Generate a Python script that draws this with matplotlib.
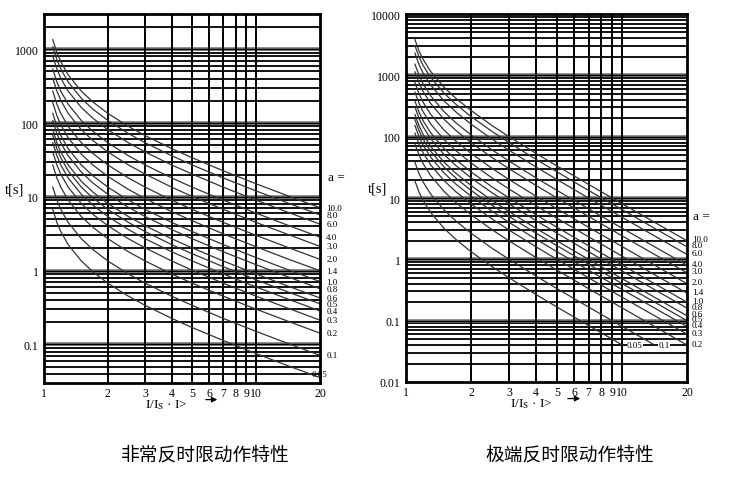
import numpy as np
import matplotlib.pyplot as plt

plt.rcParams['font.family'] = ['Liberation Serif', 'DejaVu Serif']
plt.rcParams['mathtext.fontset'] = 'stix'

# current multiple I/Is where the curves were read
I_pts = [1.1, 1.15, 1.2, 1.3, 1.5, 1.7, 2, 2.5, 3, 4, 5, 7, 10, 14, 20]
a_labels = ['10.0', '8.0', '6.0', '4.0', '3.0', '2.0', '1.4', '1.0',
            '0.8', '0.6', '0.5', '0.4', '0.3', '0.2', '0.1', '0.05']

# very inverse (left), t[s] for each a
vi_t = [
    [1350, 900, 675, 450, 270, 193, 135, 90, 67.5, 45, 33.8, 22.5, 15, 10.4, 7.11],
    [1080, 720, 540, 360, 216, 154, 108, 72, 54, 36, 27, 18, 12, 8.31, 5.68],
    [810, 540, 405, 270, 162, 116, 81, 54, 40.5, 27, 20.3, 13.5, 9.0, 6.23, 4.26],
    [540, 360, 270, 180, 108, 77.1, 54, 36, 27, 18, 13.5, 9.0, 6.0, 4.15, 2.84],
    [405, 270, 203, 135, 81, 57.9, 40.5, 27, 20.3, 13.5, 10.1, 6.75, 4.5, 3.12, 2.13],
    [270, 180, 135, 90, 54, 38.6, 27, 18, 13.5, 9.0, 6.75, 4.5, 3.0, 2.08, 1.42],
    [189, 126, 94.5, 63, 37.8, 27, 18.9, 12.6, 9.45, 6.3, 4.73, 3.15, 2.1, 1.45, 0.995],
    [135, 90, 67.5, 45, 27, 19.3, 13.5, 9.0, 6.75, 4.5, 3.38, 2.25, 1.5, 1.04, 0.711],
    [108, 72, 54, 36, 21.6, 15.4, 10.8, 7.2, 5.4, 3.6, 2.7, 1.8, 1.2, 0.831, 0.568],
    [81, 54, 40.5, 27, 16.2, 11.6, 8.1, 5.4, 4.05, 2.7, 2.03, 1.35, 0.9, 0.623, 0.426],
    [67.5, 45, 33.8, 22.5, 13.5, 9.64, 6.75, 4.5, 3.38, 2.25, 1.69, 1.13, 0.75, 0.519, 0.355],
    [54, 36, 27, 18, 10.8, 7.71, 5.4, 3.6, 2.7, 1.8, 1.35, 0.9, 0.6, 0.415, 0.284],
    [40.5, 27, 20.3, 13.5, 8.1, 5.79, 4.05, 2.7, 2.03, 1.35, 1.01, 0.675, 0.45, 0.312, 0.213],
    [27, 18, 13.5, 9.0, 5.4, 3.86, 2.7, 1.8, 1.35, 0.9, 0.675, 0.45, 0.3, 0.208, 0.142],
    [13.5, 9.0, 6.75, 4.5, 2.7, 1.93, 1.35, 0.9, 0.675, 0.45, 0.338, 0.225, 0.15, 0.104, 0.0711],
    [6.75, 4.5, 3.38, 2.25, 1.35, 0.964, 0.675, 0.45, 0.338, 0.225, 0.169, 0.113, 0.075, 0.0519, 0.0355],
]

# extremely inverse (right), nan where the curve has stopped
nan = np.nan
ei_t = [
    [3810, 2480, 1820, 1160, 640, 423, 267, 152, 100, 53.3, 33.3, 16.7, 8.08, 4.10, 2.01],
    [3050, 1980, 1450, 928, 512, 339, 213, 122, 80, 42.7, 26.7, 13.3, 6.46, 3.28, 1.60],
    [2290, 1490, 1090, 696, 384, 254, 160, 91.4, 60, 32, 20, 10, 4.85, 2.46, 1.20],
    [1520, 992, 727, 464, 256, 169, 107, 61, 40, 21.3, 13.3, 6.67, 3.23, 1.64, 0.802],
    [1140, 744, 545, 348, 192, 127, 80, 45.7, 30, 16, 10, 5.0, 2.42, 1.23, 0.602],
    [762, 496, 364, 232, 128, 84.7, 53.3, 30.5, 20, 10.7, 6.67, 3.33, 1.62, 0.821, 0.401],
    [533, 347, 255, 162, 89.6, 59.3, 37.3, 21.3, 14, 7.47, 4.67, 2.33, 1.13, 0.574, 0.281],
    [381, 248, 182, 116, 64, 42.3, 26.7, 15.2, 10, 5.33, 3.33, 1.67, 0.808, 0.410, 0.200],
    [305, 198, 145, 92.8, 51.2, 33.9, 21.3, 12.2, 8, 4.27, 2.67, 1.33, 0.646, 0.328, 0.160],
    [229, 149, 109, 69.6, 38.4, 25.4, 16, 9.14, 6, 3.2, 2.0, 1.0, 0.485, 0.246, 0.120],
    [190, 124, 90.9, 58, 32, 21.2, 13.3, 7.62, 5, 2.67, 1.67, 0.833, 0.404, 0.205, 0.100],
    [152, 99.2, 72.7, 46.4, 25.6, 16.9, 10.7, 6.1, 4, 2.13, 1.33, 0.667, 0.323, 0.164, 0.0802],
    [114, 74.4, 54.5, 34.8, 19.2, 12.7, 8, 4.57, 3, 1.6, 1.0, 0.5, 0.242, 0.123, 0.0602],
    [76.2, 49.6, 36.4, 23.2, 12.8, 8.47, 5.33, 3.05, 2, 1.07, 0.667, 0.333, 0.162, 0.0821, 0.0401],
    [38.1, 24.8, 18.2, 11.6, 6.4, 4.23, 2.67, 1.52, 1, 0.533, 0.333, 0.167, 0.0808, 0.0410, nan],
    [19.0, 12.4, 9.09, 5.8, 3.2, 2.12, 1.33, 0.762, 0.5, 0.267, 0.167, 0.0833, 0.0404, nan, nan],
]

x_ticks = [1, 2, 3, 4, 5, 6, 7, 8, 9, 10, 20]
vi_yticks = [0.1, 1, 10, 100, 1000]
vi_ylabels = ['0.1', '1', '10', '100', '1000']
ei_yticks = [0.01, 0.1, 1, 10, 100, 1000, 10000]
ei_ylabels = ['0.01', '0.1', '1', '10', '100', '1000', '10000']
titles = ['非常反时限动作特性', '极端反时限动作特性']


def setup(ax, ymin, ymax, yticks, ylabels):
    ax.set_xscale('log')
    ax.set_yscale('log')
    d0, d1 = int(np.floor(np.log10(ymin))), int(np.ceil(np.log10(ymax)))
    minors = [k * 10.0 ** d for d in range(d0, d1) for k in range(2, 10)]
    for y in minors:
        if ymin < y < ymax:
            ax.axhline(y, color='black', lw=1.3, zorder=1)
    for y in yticks:
        if ymin < y < ymax:
            ax.axhline(y, color='#777777', lw=2.6, zorder=1)
            ax.axhline(y, color='black', lw=1.0, zorder=1)
    for x in x_ticks[1:-1]:
        ax.axvline(x, color='black', lw=1.4, zorder=1)
    ax.set_xticks(x_ticks)
    ax.set_xticklabels([str(x) for x in x_ticks])
    ax.set_xticks([], minor=True)
    ax.set_yticks(yticks)
    ax.set_yticklabels(ylabels)
    ax.set_yticks([], minor=True)
    ax.set_xlim(1, 20)
    ax.set_ylim(ymin, ymax)
    ax.tick_params(length=0, labelsize=8.5, colors='black')
    ax.tick_params(axis='x', pad=3)
    ax.tick_params(axis='y', pad=4)
    for s in ax.spines.values():
        s.set_linewidth(2.0)
        s.set_zorder(5)


fig = plt.figure(figsize=(7.3, 4.81), dpi=100)
ax1 = fig.add_axes([44 / 730, 1 - 384 / 481, 276 / 730, 369 / 481])
ax2 = fig.add_axes([406 / 730, 1 - 383 / 481, 281 / 730, 368 / 481])

setup(ax1, 0.03, 3000, vi_yticks, vi_ylabels)
setup(ax2, 0.01, 10000, ei_yticks, ei_ylabels)

for row in vi_t:
    ax1.plot(I_pts, row, color='#333333', lw=0.9, zorder=3)
for row in ei_t:
    ax2.plot(I_pts, row, color='#333333', lw=0.9, zorder=3)

# curve labels (left)
for lab, row in zip(a_labels, vi_t):
    if lab == '0.05':
        ax1.annotate(lab, xy=(20, 0.04), xytext=(0, 0), textcoords='offset points',
                     ha='center', va='center', fontsize=6.5, annotation_clip=False, zorder=6)
    else:
        ax1.annotate(lab, xy=(20, row[-1]), xytext=(4.5, 0), textcoords='offset points',
                     ha='left', va='center', fontsize=6.5, annotation_clip=False)

# curve labels (right)
for lab, row in zip(a_labels, ei_t):
    if lab == '0.05':
        ax2.text(10.55, 0.04, lab, ha='left', va='center', fontsize=6.5, zorder=6,
                 bbox=dict(facecolor='white', edgecolor='none', pad=0.3))
    elif lab == '0.1':
        ax2.text(14.8, 0.04, lab, ha='left', va='center', fontsize=6.5, zorder=6,
                 bbox=dict(facecolor='white', edgecolor='none', pad=0.3))
    else:
        ax2.annotate(lab, xy=(20, row[-1]), xytext=(3.5, 1), textcoords='offset points',
                     ha='left', va='center', fontsize=6.5, annotation_clip=False)

for ax, ax_x, ay, tx, lx, arr in [(ax1, 1.03, 0.558, -0.105, 0.365, (0.576, 0.638)),
                                  (ax2, 1.022, 0.451, -0.10, 0.37, (0.566, 0.63))]:
    ax.text(ax_x, ay, 'a =', transform=ax.transAxes, fontsize=9.5, ha='left', va='center')
    ax.text(tx, 0.527, 't[s]', transform=ax.transAxes, fontsize=10.5, ha='center', va='center')
    ax.text(lx, -0.056, r'I/I$_\mathrm{S}$ · I>', transform=ax.transAxes,
            fontsize=9.5, ha='left', va='center')
    ax.annotate('', xy=(arr[1], -0.045), xytext=(arr[0], -0.045), xycoords='axes fraction',
                arrowprops=dict(arrowstyle='-|>', lw=0.9, color='black', mutation_scale=8),
                annotation_clip=False)

fig.text(205 / 730, 1 - 455 / 481, titles[0], ha='center', va='center', fontsize=13.5,
         family=['Noto Sans CJK SC', 'DejaVu Sans'])
fig.text(570 / 730, 1 - 455 / 481, titles[1], ha='center', va='center', fontsize=13.5,
         family=['Noto Sans CJK SC', 'DejaVu Sans'])

fig.savefig('out.png', dpi=100)
